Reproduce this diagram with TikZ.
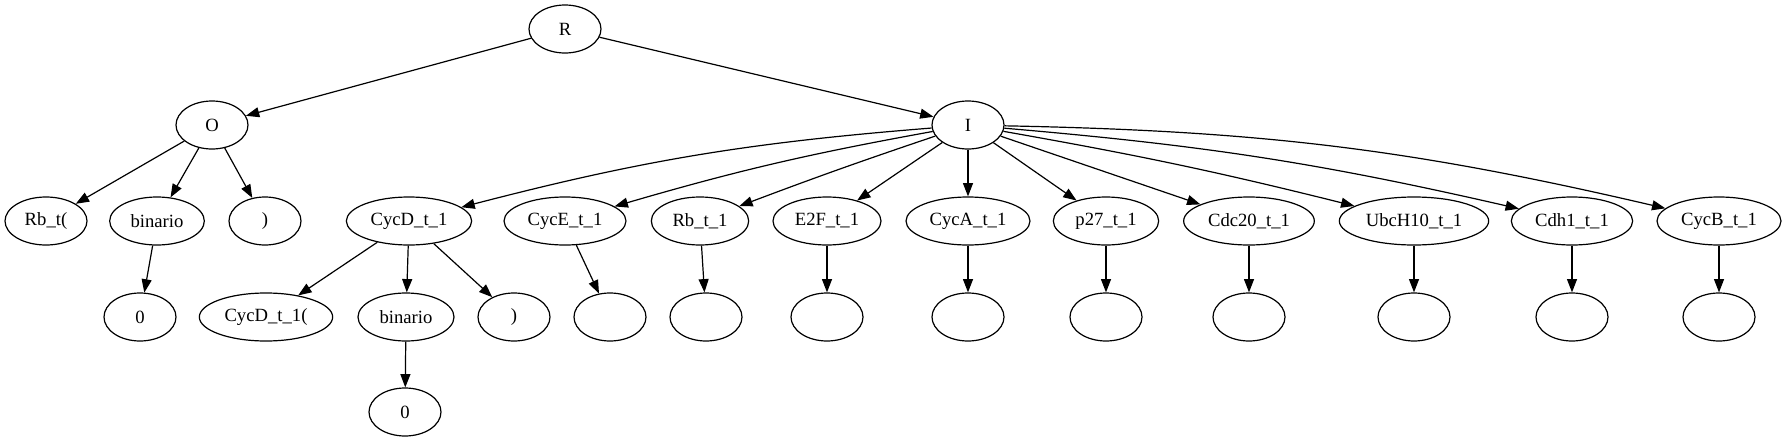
\documentclass[tikz,border=0pt]{standalone}
\usepackage{fontspec}
\setmainfont{Liberation Serif}
\usetikzlibrary{shapes.geometric,arrows.meta}
\begin{document}
\begin{tikzpicture}[x=0.75pt,y=-0.75pt,
  nd/.style={ellipse,draw,line width=0.9pt,inner sep=0pt,minimum height=36pt,minimum width=54pt,font=\fontsize{14}{16}\selectfont},
  ed/.style={draw,line width=0.9pt,-{Triangle[length=10pt,width=7.5pt]}}]
\useasboundingbox (0,0) rectangle (1786,443);
% level 0/1
\node[nd] (R) at (565,29) {R};
\node[nd] (O) at (212,125) {O};
\node[nd] (I) at (968,125) {I};
% children of O
\node[nd,minimum width=61.5pt] (Rbt) at (46,221) {Rb\_t(};
\node[nd,minimum width=71pt] (bin1) at (157,221) {binario};
\node[nd] (par1) at (265,221) {)};
\node[nd] (zero1) at (140,317) {0};
% children of I
\node[nd,minimum width=94pt] (CycD) at (409,221) {CycD\_t\_1};
\node[nd,minimum width=91.5pt] (CycE) at (565,221) {CycE\_t\_1};
\node[nd,minimum width=73pt] (Rb) at (700,221) {Rb\_t\_1};
\node[nd,minimum width=81pt] (E2F) at (827,221) {E2F\_t\_1};
\node[nd,minimum width=93pt] (CycA) at (968,221) {CycA\_t\_1};
\node[nd,minimum width=79pt] (p27) at (1106,221) {p27\_t\_1};
\node[nd,minimum width=98pt] (Cdc20) at (1249,221) {Cdc20\_t\_1};
\node[nd,minimum width=112pt] (Ubc) at (1414,221) {UbcH10\_t\_1};
\node[nd,minimum width=91pt] (Cdh1) at (1572,221) {Cdh1\_t\_1};
\node[nd,minimum width=93pt] (CycB) at (1719,221) {CycB\_t\_1};
% children of CycD
\node[nd,minimum width=100pt] (CycDp) at (266,317) {CycD\_t\_1(};
\node[nd,minimum width=72pt] (bin2) at (406,317) {binario};
\node[nd] (par2) at (514,317) {)};
\node[nd] (zero2) at (405,412) {0};
% empty leaves
\node[nd] (eCycE) at (610,317) {};
\node[nd] (eRb) at (706,317) {};
\node[nd] (eE2F) at (827,317) {};
\node[nd] (eCycA) at (968,317) {};
\node[nd] (ep27) at (1106,317) {};
\node[nd] (eCdc20) at (1249,317) {};
\node[nd] (eUbc) at (1414,317) {};
\node[nd] (eCdh1) at (1572,317) {};
\node[nd] (eCycB) at (1719,317) {};
% edges
\draw[ed] (R) -- (O);
\draw[ed] (R) -- (I);
\draw[ed] (O) -- (Rbt);
\draw[ed] (O) -- (bin1);
\draw[ed] (O) -- (par1);
\draw[ed] (bin1) -- (zero1);
\draw[ed] (I) to[bend right=5] (CycD);
\draw[ed] (I) to[bend right=3] (CycE);
\draw[ed] (I) to[bend right=1] (Rb);
\draw[ed] (I) -- (E2F);
\draw[ed] (I) -- (CycA);
\draw[ed] (I) -- (p27);
\draw[ed] (I) -- (Cdc20);
\draw[ed] (I) to[bend left=2] (Ubc);
\draw[ed] (I) to[bend left=4] (Cdh1);
\draw[ed] (I) to[bend left=6] (CycB);
\draw[ed] (CycD) -- (CycDp);
\draw[ed] (CycD) -- (bin2);
\draw[ed] (CycD) -- (par2);
\draw[ed] (bin2) -- (zero2);
\draw[ed] (CycE) -- (eCycE);
\draw[ed] (Rb) -- (eRb);
\draw[ed] (E2F) -- (eE2F);
\draw[ed] (CycA) -- (eCycA);
\draw[ed] (p27) -- (ep27);
\draw[ed] (Cdc20) -- (eCdc20);
\draw[ed] (Ubc) -- (eUbc);
\draw[ed] (Cdh1) -- (eCdh1);
\draw[ed] (CycB) -- (eCycB);
\end{tikzpicture}
\end{document}
